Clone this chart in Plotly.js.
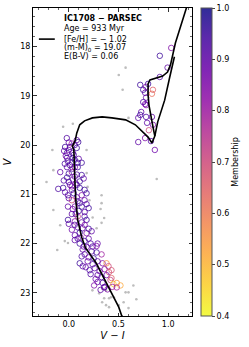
<!DOCTYPE html>
<html>
<head>
<meta charset="utf-8">
<script src="https://cdn.plot.ly/plotly-3.0.1.min.js"></script>
<style>html,body{margin:0;padding:0;background:#fff;}#chart{width:249px;height:347px;}</style>
</head>
<body>
<div id="chart"></div>
<script>
// Member stars (V-I colour, V magnitude, membership probability)
const memX = [0.916,1.031,0.994,0.916,0.719,0.798,0.749,0.778,0.847,0.837,0.768,0.778,0.729,0.719,0.778,0.778,0.837,0.749,0.768,0.788,0.847,0.806,0.699,0.768,0.827,0.866,0.699,
-0.02,0.08,0.095,-0.037,0.012,0.06,0.03,-0.018,0.041,-0.018,0.041,0.0,-0.047,0.08,
0.031,0.09,0.13,-0.01,0.012,-0.018,0.061,0.09,-0.086,0.031,0.081,-0.018,0.041,0.13,0.15,0.0,0.07,0.11,
0.012,0.081,-0.057,-0.106,-0.037,0.031,0.11,0.159,-0.008,0.081,0.13,0.179,0.031,0.09,0.159,-0.008,0.061,0.13,0.179,0.2,
0.031,0.09,0.159,-0.008,0.061,0.13,0.179,0.09,0.139,0.031,0.11,0.061,0.179,0.2,0.23,
0.12,0.06,0.16,0.2,0.22,0.29,0.11,0.15,0.18,0.24,0.28,0.23,0.28,0.16,0.13,0.33,
0.11,0.14,0.19,0.24,0.29,0.34,0.38,0.40,0.21,0.26,0.31,0.36,0.405,0.43,0.29,0.33,0.38,0.43,
0.29,0.34,0.42,0.45,0.483,0.52,0.36,0.437,0.483,0.39,0.356,
0.0,0.05,-0.03,0.06,0.1,-0.04,0.04,0.0,0.06,-0.05,0.03,0.05,0.0,0.11,0.04,0.1,0.16,0.06,0.0,0.16,0.09,0.14,0.2,0.25,0.17,0.22,0.27,0.32,0.255,0.07];
const memV = [18.19,18.03,18.43,18.62,18.78,18.76,18.88,18.82,18.88,18.96,18.94,19.04,19.33,19.39,19.19,19.43,19.43,19.13,19.17,19.55,19.59,19.70,19.94,19.86,19.92,20.10,19.45,
19.86,19.90,19.94,20.04,20.04,20.00,19.97,20.16,20.16,20.26,20.26,20.10,20.12,20.06,
20.35,20.36,20.36,20.33,20.41,20.45,20.45,20.45,20.55,20.55,20.60,20.66,20.70,20.61,20.68,20.75,20.78,20.74,
20.81,20.81,20.87,20.89,20.96,20.91,20.87,20.91,21.02,21.06,21.02,20.98,21.12,21.14,21.12,21.25,21.25,21.25,21.20,21.28,
21.40,21.45,21.45,21.52,21.55,21.57,21.52,21.67,21.69,21.72,21.78,21.83,21.79,21.70,21.75,
21.88,21.93,21.95,21.90,22.00,22.00,22.00,22.06,22.07,22.06,22.05,22.16,22.18,22.22,22.26,22.22,
22.40,22.46,22.36,22.42,22.36,22.40,22.40,22.46,22.54,22.50,22.56,22.52,22.58,22.54,22.64,22.68,22.64,22.70,
22.78,22.80,22.74,22.82,22.80,22.85,22.88,22.88,22.89,22.93,22.89,
19.95,20.20,20.22,20.30,20.28,20.38,20.48,20.58,20.64,20.72,20.84,20.98,21.08,21.18,21.30,21.34,21.36,21.62,21.60,21.62,21.90,22.12,22.28,22.30,22.48,22.62,22.72,22.94,22.85,21.40];
const memP = [0.95,0.85,0.9,0.92,0.95,0.95,0.95,0.85,0.65,0.62,0.9,0.9,0.9,0.95,0.85,0.93,0.9,0.92,0.88,0.9,0.85,0.7,0.9,0.85,0.92,0.88,0.9,
0.92,0.9,0.95,0.95,0.93,0.9,0.8,0.95,0.9,0.92,0.95,0.88,0.9,0.95,
0.9,0.95,0.95,0.92,0.93,0.9,0.85,0.95,0.9,0.8,0.92,0.95,0.88,0.95,0.9,0.93,0.85,0.95,
0.9,0.92,0.95,0.93,0.9,0.88,0.95,0.95,0.92,0.9,0.85,0.95,0.7,0.93,0.9,0.9,0.85,0.95,0.92,0.95,
0.9,0.72,0.93,0.95,0.85,0.9,0.95,0.9,0.92,0.88,0.95,0.9,0.85,0.95,0.9,
0.85,0.9,0.95,0.9,0.93,0.9,0.95,0.9,0.88,0.92,0.85,0.9,0.95,0.9,0.93,0.8,
0.95,0.9,0.88,0.92,0.9,0.85,0.55,0.7,0.93,0.9,0.88,0.85,0.68,0.68,0.9,0.93,0.88,0.65,
0.9,0.92,0.72,0.45,0.55,0.52,0.9,0.8,0.78,0.85,0.9,
0.9,0.92,0.88,0.95,0.9,0.93,0.9,0.95,0.9,0.92,0.85,0.95,0.9,0.93,0.88,0.95,0.9,0.92,0.9,0.85,0.92,0.9,0.88,0.95,0.9,0.92,0.88,0.9,0.85,0.93];

// Non-member field stars
const nonX = [0.503,0.572,0.542,0.601,-0.057,0.041,0.179,-0.165,-0.155,-0.224,0.189,0.208,0.33,0.33,0.32,0.33,0.28,-0.155,0.356,-0.086,0.885,0.18,0.24,0.21,-0.04,
-0.008,-0.116,0.336,0.375,0.306,0.336,0.405,0.454,0.650,0.601,0.680,0.552,0.503,0.356,0.405,0.601,0.238,0.572,0.424,0.375];
const nonV = [18.58,18.43,18.88,19.45,19.63,19.57,20.10,20.10,20.51,20.75,20.85,21.12,21.02,21.18,21.30,21.58,21.69,21.32,21.48,21.63,20.69,20.57,21.47,21.79,21.95,
21.99,22.13,22.91,22.95,23.01,23.19,23.11,23.09,22.85,22.99,23.13,23.19,23.25,23.11,23.29,23.31,22.95,22.99,23.09,23.25];

// PARSEC isochrone: MS -> turnoff -> SGB -> RGB
const isoX = [0.547,0.532,0.503,0.454,0.403,0.336,0.277,0.169,0.130,0.090,0.071,0.061,0.056,0.051,0.036,0.046,0.066,0.080,0.110,0.159,0.238,0.336,0.434,0.572,0.670,0.749,0.798,0.837,0.866,0.895,0.925,0.965,1.014,1.063];
const isoV = [23.50,23.46,23.29,23.09,22.89,22.64,22.40,22.09,21.87,21.52,21.12,20.71,20.41,20.10,20.02,19.99,19.90,19.76,19.59,19.51,19.45,19.43,19.45,19.49,19.59,19.74,19.84,19.96,19.82,19.53,19.33,19.09,18.64,18.21];
// Later phases: upper branch coming down to the clump
const iso2X = [1.210,1.073,1.024,0.994,0.945,0.866,0.817,0.798,0.798,0.807,0.827,0.847,0.866];
const iso2V = [17.05,17.93,18.37,18.52,18.60,18.64,18.68,18.76,18.98,19.19,19.45,19.63,19.82];

// plasma colour map, reversed (low membership = yellow, high = dark blue), slightly translucent
const plasmaR = [[0,'rgba(240,249,33,0.85)'],[0.1,'rgba(252,206,37,0.85)'],[0.2,'rgba(252,166,54,0.85)'],
  [0.3,'rgba(242,132,75,0.85)'],[0.4,'rgba(225,100,98,0.85)'],[0.5,'rgba(204,71,120,0.85)'],
  [0.6,'rgba(177,42,144,0.85)'],[0.7,'rgba(143,13,164,0.85)'],[0.8,'rgba(106,0,168,0.85)'],
  [0.9,'rgba(65,4,157,0.85)'],[1,'rgba(13,8,135,0.85)']];

const legendLines = ["<b>IC1708 − PARSEC</b>","Age = 933 Myr","[Fe/H] = − 1.02","(m-M)<sub>0</sub> = 19.07","E(B-V) = 0.06"];
const legendY = [0.967,0.932,0.899,0.869,0.841];

const traces = [
  {type:'scatter', mode:'markers', x:nonX, y:nonV, showlegend:false, hoverinfo:'skip',
   marker:{size:2.6, color:'#bdbdbd'}},
  {type:'scatter', mode:'markers', x:memX, y:memV, showlegend:false,
   marker:{symbol:'circle-open', size:5.5, color:memP, cmin:0.4, cmax:1.0,
     colorscale:plasmaR, line:{width:0.9},
     colorbar:{x:1.056, xanchor:'left', xpad:0, ypad:0, y:0.5, yanchor:'middle', len:1, thickness:11,
       outlinewidth:1, outlinecolor:'#555', ticks:'outside', ticklen:3, tickwidth:1,
       tickvals:[0.4,0.5,0.6,0.7,0.8,0.9,1.0], tickformat:'.1f', tickfont:{size:8, color:'#000'},
       title:{text:'Membership', side:'right', font:{size:8, color:'#000'}}}}},
  {type:'scatter', mode:'lines', x:isoX, y:isoV, showlegend:false, line:{color:'#000', width:1.6}},
  {type:'scatter', mode:'lines', x:iso2X, y:iso2V, showlegend:false, line:{color:'#000', width:1.6}}
];

const annotations = legendLines.map((t,i)=>({text:t, xref:'paper', yref:'paper', x:0.180, y:legendY[i],
  xanchor:'left', yanchor:'middle', showarrow:false, font:{size:8, color:'#000'}}));

const axisCommon = {showline:true, linecolor:'#000', linewidth:1, mirror:'allticks', ticks:'inside',
  ticklen:3.5, tickwidth:0.8, tickcolor:'#000', showgrid:false, zeroline:false,
  tickfont:{size:8, color:'#000'}};

const layout = {
  width:249, height:347, margin:{l:33, r:55, t:8, b:31, pad:0},
  paper_bgcolor:'#fff', plot_bgcolor:'#fff',
  font:{family:'DejaVu Sans', size:8, color:'#000'},
  xaxis:Object.assign({}, axisCommon, {range:[-0.36,1.24], tick0:0, dtick:0.5, tickformat:'.1f',
    minor:{ticks:'inside', ticklen:2, dtick:0.1, tick0:0, tickcolor:'#000', tickwidth:0.6},
    title:{text:'<i>V</i> − <i>I</i>', font:{size:10, color:'#000'}, standoff:4}}),
  yaxis:Object.assign({}, axisCommon, {range:[23.47,17.22], tick0:18, dtick:1,
    minor:{ticks:'inside', ticklen:2, dtick:0.2, tick0:18, tickcolor:'#000', tickwidth:0.6},
    title:{text:'<i>V</i>', font:{size:10, color:'#000'}, standoff:6}}),
  shapes:[{type:'line', xref:'paper', yref:'paper', x0:0.037, x1:0.137, y0:0.899, y1:0.899, line:{color:'#000', width:1.6}}],
  annotations:annotations,
  showlegend:false
};

Plotly.newPlot('chart', traces, layout, {displayModeBar:false, staticPlot:true});
</script>
</body>
</html>
